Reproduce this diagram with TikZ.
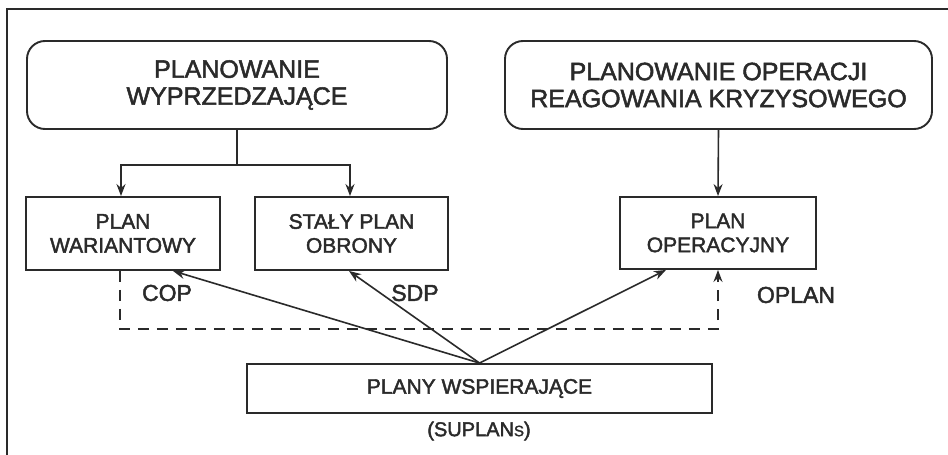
\documentclass[tikz,border=0pt]{standalone}
\usepackage{fontspec}
\setmainfont{Liberation Sans}[FakeBold=2]
\usetikzlibrary{arrows.meta}
\definecolor{ink}{HTML}{2A2A2A}
\tikzset{
  base/.style={draw=ink, line width=1.9pt, text=ink, align=center, inner sep=0pt},
  topbox/.style={base, rounded corners=18pt, font=\fontsize{25}{27}\selectfont},
  planbox/.style={base, font=\fontsize{21}{24}\selectfont},
  tag/.style={text=ink, font=\fontsize{23}{25}\selectfont, inner sep=0pt},
  link/.style={draw=ink, line width=1.6pt},
  arr/.style={link, -{Stealth[length=12pt,width=9pt]}},
  dsh/.style={dash pattern=on 11pt off 8pt}
}
\begin{document}
\begin{tikzpicture}[x=1pt,y=-1pt]
\useasboundingbox (0,0) rectangle (948,455);
\fill[white] (0,0) rectangle (948,455);

% frame (left and top edges)
\draw[ink, line width=1.9pt] (7,455) -- (7,9) -- (948,9);

% planning levels
\node[topbox, minimum width=420pt, minimum height=88pt] (b1) at (237,85)
  {PLANOWANIE\\WYPRZEDZAJĄCE};
\node[topbox, minimum width=427pt, minimum height=88pt] (b2) at (718.5,85)
  {PLANOWANIE OPERACJI\\REAGOWANIA KRYZYSOWEGO};

% plans
\node[planbox, minimum width=194pt, minimum height=73pt] (b3) at (123,233.5)
  {PLAN\\WARIANTOWY};
\node[planbox, minimum width=193pt, minimum height=73pt] (b4) at (351.5,233.5)
  {STAŁY PLAN\\OBRONY};
\node[planbox, minimum width=196pt, minimum height=72pt] (b5) at (718,233)
  {PLAN\\OPERACYJNY};
\node[planbox, minimum width=465pt, minimum height=49pt] (b6) at (479.5,388.5)
  {PLANY WSPIERAJĄCE};
\node[text=ink, font=\fontsize{20}{22}\selectfont, inner sep=0pt] (sup) at (479,431)
  {(SUPLAN{\fontsize{15}{16}\selectfont S})};

% labels
\node[tag] (cop) at (167,293) {COP};
\node[tag] (sdp) at (415,293) {SDP};
\node[tag] (oplan) at (796,295) {OPLAN};

% advance planning branches
\coordinate (jn) at (237,165);
\draw[link] (b1.south) -- (jn);
\draw[arr] (jn) -| ([xshift=-2pt]b3.north);
\draw[arr] (jn) -| ([xshift=-1.5pt]b4.north);

% crisis response planning
\draw[arr] (b2.south) -- (b5.north);

% supporting plans
\draw[arr] (b6.north) -- ([xshift=50pt]b3.south);
\draw[arr] (b6.north) -- ([xshift=-2.5pt]b4.south);
\draw[arr] (b6.north) -- ([xshift=-52pt]b5.south);

% dashed link from COP to OPLAN
\coordinate (dl) at (120,329);
\draw[arr, dsh] ([xshift=-3pt]b3.south) -- (dl) -- (dl -| b5.south) -- (b5.south);
\end{tikzpicture}
\end{document}
